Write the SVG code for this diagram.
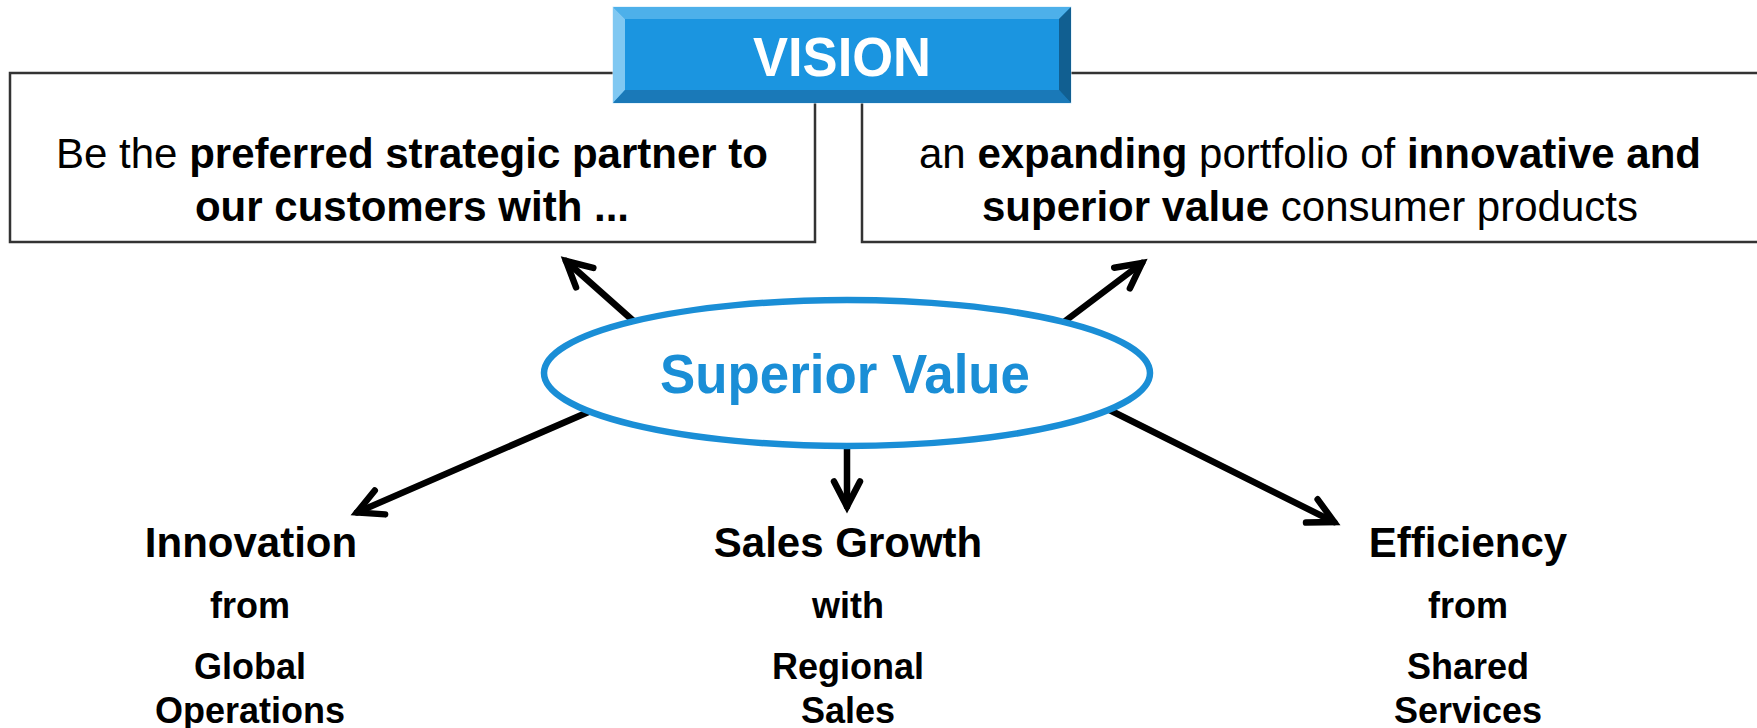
<svg xmlns="http://www.w3.org/2000/svg" width="1757" height="728" viewBox="0 0 1757 728">
<defs>
<style>
text{font-family:"Liberation Sans",Arial,Helvetica,sans-serif;fill:#000;text-anchor:middle}
.box{fill:#fff;stroke:#333;stroke-width:2.5}
.bt{font-size:42px}
.b{font-weight:bold}
.h1{font-size:42px;font-weight:bold}
.h2{font-size:36px;font-weight:bold}
.conn{stroke:#000;stroke-width:6.5;fill:none;stroke-linecap:round}
.ah{stroke:#000;stroke-width:6.5;fill:none;stroke-linecap:round;stroke-linejoin:miter;stroke-miterlimit:10}
</style>
<marker id="arr" markerUnits="userSpaceOnUse" orient="auto" refX="0" refY="0" markerWidth="60" markerHeight="60" viewBox="-40 -30 60 60" overflow="visible">
<path class="ah" d="M-25,-13 L0,0 L-25,13"/>
</marker>
</defs>
<rect width="1757" height="728" fill="#fff"/>
<g id="box-left">
<rect class="box" x="10" y="73" width="805" height="169"/>
<text class="bt" x="412" y="168">Be the <tspan class="b">preferred strategic partner to</tspan></text>
<text class="bt b" x="412" y="221">our customers with ...</text>
</g>
<g id="box-right">
<rect class="box" x="862" y="73" width="905" height="169"/>
<text class="bt" x="1310" y="168">an <tspan class="b">expanding</tspan> portfolio of <tspan class="b">innovative and</tspan></text>
<text class="bt" x="1310" y="221"><tspan class="b">superior value</tspan> consumer products</text>
</g>
<g id="vision">
<rect x="613" y="7" width="458" height="96" fill="#1b95e0" stroke="#cfe9f9" stroke-width="1"/>
<polygon points="613,7 1071,7 1059,19 625,19" fill="#4db0ea"/>
<polygon points="613,7 625,19 625,90 613,103" fill="#80c8f2"/>
<polygon points="613,103 625,90 1059,90 1071,103" fill="#1a79b8"/>
<polygon points="1071,7 1071,103 1059,90 1059,19" fill="#115f91"/>
<text x="842" y="76" textLength="178" lengthAdjust="spacingAndGlyphs" style="font-size:56px;font-weight:bold;fill:#fff">VISION</text>
</g>
<g id="connectors">
<line class="conn" x1="656" y1="341" x2="566" y2="261" marker-end="url(#arr)"/>
<line class="conn" x1="1046" y1="335.5" x2="1142" y2="263" marker-end="url(#arr)"/>
<line class="conn" x1="623" y1="397" x2="357" y2="512.4" marker-end="url(#arr)"/>
<line class="conn" x1="847" y1="430" x2="847" y2="506.5" marker-end="url(#arr)"/>
<line class="conn" x1="1101.5" y1="406" x2="1334.2" y2="522.1" marker-end="url(#arr)"/>
</g>
<g id="superior-value">
<ellipse cx="847" cy="373" rx="303" ry="73" fill="#fff" stroke="#1a8ed6" stroke-width="6.5"/>
<text x="845" y="393" textLength="370" lengthAdjust="spacingAndGlyphs" style="font-size:56px;font-weight:bold;fill:#1a8ed6">Superior Value</text>
</g>
<g id="innovation">
<text class="h1" x="251" y="557">Innovation</text>
<text class="h2" x="250" y="618">from</text>
<text class="h2" x="250" y="679">Global</text>
<text class="h2" x="250" y="723">Operations</text>
</g>
<g id="sales-growth">
<text class="h1" x="848" y="557">Sales Growth</text>
<text class="h2" x="848" y="618">with</text>
<text class="h2" x="848" y="679">Regional</text>
<text class="h2" x="848" y="723">Sales</text>
</g>
<g id="efficiency">
<text class="h1" x="1468" y="557">Efficiency</text>
<text class="h2" x="1468" y="618">from</text>
<text class="h2" x="1468" y="679">Shared</text>
<text class="h2" x="1468" y="723">Services</text>
</g>
</svg>
